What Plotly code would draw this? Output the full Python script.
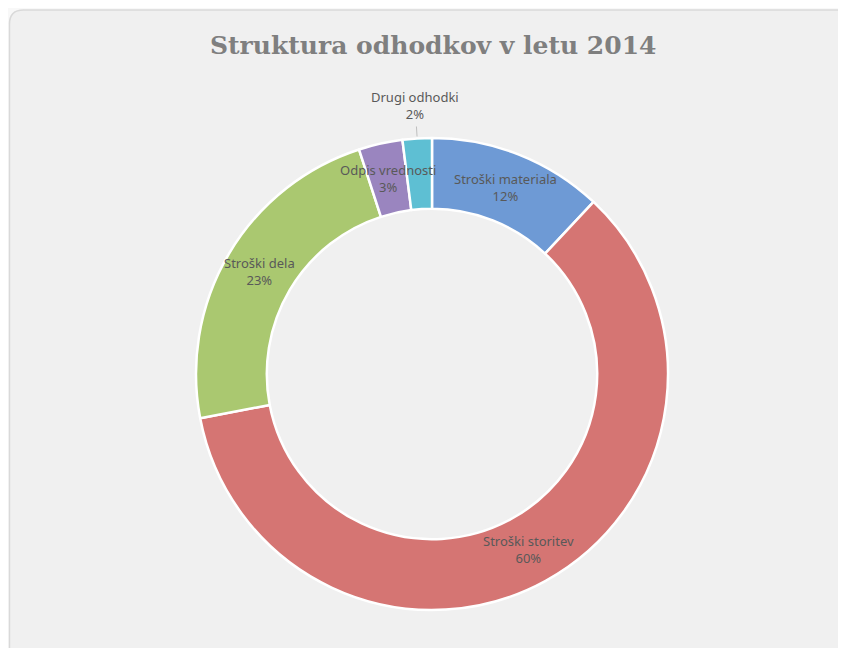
import math
import plotly.graph_objects as go

labels = ["Stroški materiala", "Stroški storitev", "Stroški dela", "Odpis vrednosti", "Drugi odhodki"]
values = [12, 60, 23, 3, 2]
colors = ["#6e9ad5", "#d57573", "#aac870", "#9a85bf", "#5ebfd3"]
label_outside = [False, False, False, False, True]
title_text = "Struktura odhodkov v letu 2014"

OFF = 8                       # page body margin offset
W, H = 846 - OFF, 648 - OFF
CX, CY, R = 432 - OFF, 374 - OFF, 236   # pie centre / radius in pixels
HOLE = 0.70


def px(x):
    return x / W


def py(y):
    return 1 - y / H


fig = go.Figure()
fig.add_trace(go.Pie(
    labels=labels, values=values, hole=HOLE, sort=False, direction="clockwise",
    rotation=0, textinfo="none",
    marker=dict(colors=colors, line=dict(color="white", width=2.5)),
    domain=dict(x=[px(CX - R - 40), px(CX + R + 40)], y=[py(CY + R), py(CY - R)]),
    showlegend=False,
    hoverinfo="label+percent",
))

annotations = []
shapes = []
total = sum(values)
cum = 0
r_mid = R * (1 + HOLE) / 2
for lab, v, outside in zip(labels, values, label_outside):
    ang = (cum + v / 2) / total * 2 * math.pi
    cum += v
    s, c = math.sin(ang), math.cos(ang)
    txt = f"{lab}<br>{round(v / total * 100)}%"
    if outside:
        rr = R + 33
        shapes.append(dict(type="line", xref="paper", yref="paper",
                           x0=px(CX + (R + 2) * s), y0=py(CY - (R + 2) * c),
                           x1=px(CX + (R + 12) * s), y1=py(CY - (R + 12) * c),
                           line=dict(color="#bfbfbf", width=1)))
    else:
        rr = r_mid
    annotations.append(dict(
        x=px(CX + rr * s), y=py(CY - rr * c), xref="paper", yref="paper",
        text=txt, showarrow=False, xanchor="center", yanchor="middle",
        font=dict(family="Noto Sans", size=13, color="#595959"), align="center"))

annotations.append(dict(
    x=px(433 - OFF), y=py(45 - OFF), xref="paper", yref="paper", text="<b>" + title_text + "</b>",
    showarrow=False, xanchor="center", yanchor="middle",
    font=dict(family="DejaVu Serif", size=25, color="#7f7f7f")))

r = 14
x0, y0, x1, y1 = 1.5, 2, 870, 670
path_paper = (f"M {px(x0+r)},{py(y0)} L {px(x1-r)},{py(y0)} Q {px(x1)},{py(y0)} {px(x1)},{py(y0+r)} "
              f"L {px(x1)},{py(y1-r)} Q {px(x1)},{py(y1)} {px(x1-r)},{py(y1)} L {px(x0+r)},{py(y1)} "
              f"Q {px(x0)},{py(y1)} {px(x0)},{py(y1-r)} L {px(x0)},{py(y0+r)} Q {px(x0)},{py(y0)} {px(x0+r)},{py(y0)} Z")
shapes.insert(0, dict(type="path", xref="paper", yref="paper", path=path_paper,
                      fillcolor="#f0f0f0", line=dict(color="#d9d9d9", width=1.5), layer="below"))

fig.update_layout(
    width=W, height=H,
    margin=dict(l=0, r=0, t=0, b=0),
    paper_bgcolor="#f8f8f8",
    shapes=shapes,
    annotations=annotations,
)
fig.write_html("out.html")
